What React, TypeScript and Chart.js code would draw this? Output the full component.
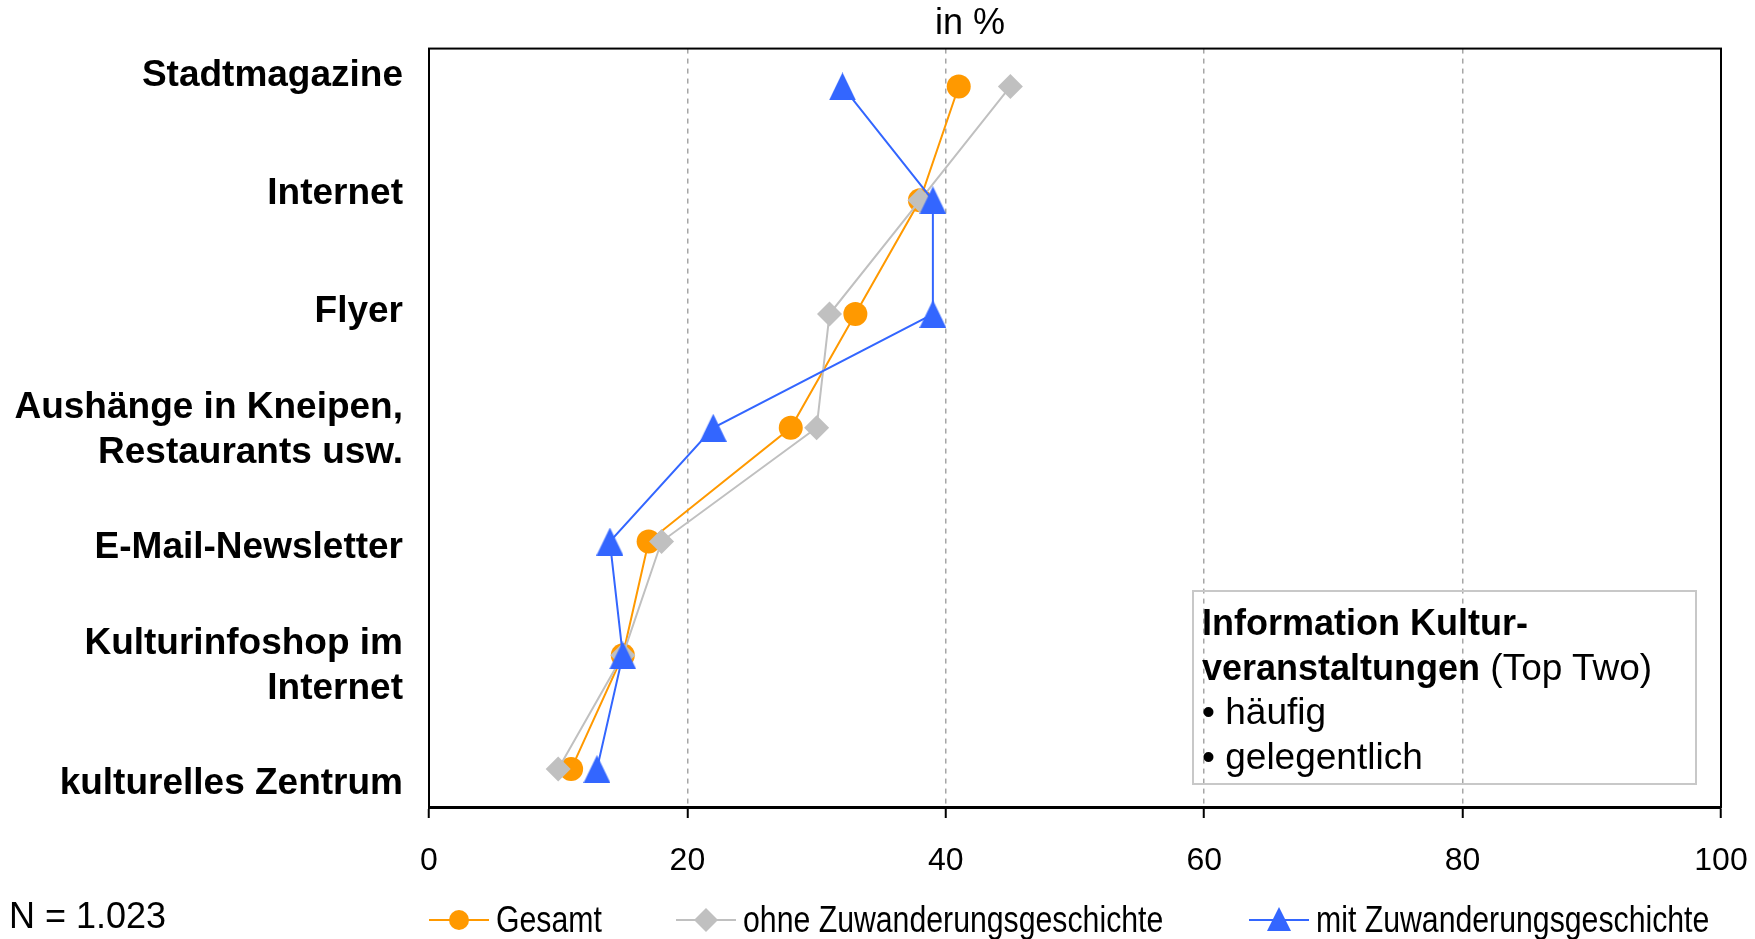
import React, { useEffect, useRef } from "react";
import { Chart, registerables } from "chart.js";

Chart.register(...registerables);

const categories: (string | string[])[] = [
  "Stadtmagazine",
  "Internet",
  "Flyer",
  ["Aushänge in Kneipen,", "Restaurants usw."],
  "E-Mail-Newsletter",
  ["Kulturinfoshop im", "Internet"],
  "kulturelles Zentrum",
];
const gesamt = [41, 38, 33, 28, 17, 15, 11];
const ohneZuwanderung = [45, 38, 31, 30, 18, 15, 10];
const mitZuwanderung = [32, 39, 39, 22, 14, 15, 13];
const seriesNames = ["Gesamt", "ohne Zuwanderungsgeschichte", "mit Zuwanderungsgeschichte"];
const xTicks = [0, 20, 40, 60, 80, 100];

const ORANGE = "#FF9900";
const GREY = "#C0C0C0";
const BLUE = "#3366FF";
const FONT = "'Liberation Sans', Arial, sans-serif";

const framePlugin = {
  id: "frame",
  afterDraw(chart: any) {
    const { ctx, chartArea } = chart;
    ctx.save();
    ctx.strokeStyle = "#000";
    ctx.lineWidth = 2;
    ctx.strokeRect(chartArea.left, chartArea.top, chartArea.right - chartArea.left, chartArea.bottom - chartArea.top);
    ctx.restore();
  },
};

function makeTriangle(color: string, w: number, h: number) {
  const c = document.createElement("canvas");
  c.width = w;
  c.height = h;
  const g = c.getContext("2d");
  if (g) {
    g.fillStyle = color;
    g.beginPath();
    g.moveTo(w / 2, 0);
    g.lineTo(w, h);
    g.lineTo(0, h);
    g.closePath();
    g.fill();
  }
  return c;
}

function LegendIcon({ kind, color }: { kind: string; color: string }) {
  return (
    <svg width={60} height={30} style={{ display: "block" }}>
      <line x1={0} y1={15} x2={60} y2={15} stroke={color} strokeWidth={2} />
      {kind === "circle" && <circle cx={30} cy={15} r={10} fill={color} />}
      {kind === "diamond" && <polygon points="30,3 42,15 30,27 18,15" fill={color} />}
      {kind === "triangle" && <polygon points="30,2 42,26 18,26" fill={color} />}
    </svg>
  );
}

export default function App() {
  const canvasRef = useRef<HTMLCanvasElement | null>(null);

  useEffect(() => {
    if (!canvasRef.current) return;
    const mk = (vals: number[]) => vals.map((v, i) => ({ x: v, y: i }));
    const tri = makeTriangle(BLUE, 27, 28);
    const chart = new Chart(canvasRef.current, {
      type: "line",
      data: {
        datasets: [
          {
            label: seriesNames[0],
            data: mk(gesamt),
            borderColor: ORANGE,
            backgroundColor: ORANGE,
            borderWidth: 2,
            pointStyle: "circle",
            pointRadius: 12,
            pointBorderWidth: 0,
            order: 2,
          },
          {
            label: seriesNames[1],
            data: mk(ohneZuwanderung),
            borderColor: GREY,
            backgroundColor: GREY,
            borderWidth: 2,
            pointStyle: "rectRot",
            pointRadius: 12.5,
            pointBorderWidth: 0,
            order: 1,
          },
          {
            label: seriesNames[2],
            data: mk(mitZuwanderung),
            borderColor: BLUE,
            backgroundColor: BLUE,
            borderWidth: 2,
            pointStyle: tri,
            pointRadius: 13,
            pointBorderWidth: 0,
            order: 0,
          },
        ],
      },
      options: {
        animation: false,
        responsive: false,
        maintainAspectRatio: false,
        layout: { padding: { left: 0, right: 34, top: 47, bottom: 62 } },
        plugins: { legend: { display: false }, tooltip: { enabled: false }, title: { display: false } },
        scales: {
          x: {
            type: "linear",
            min: 0,
            max: 100,
            afterBuildTicks: (s: any) => {
              s.ticks = xTicks.map((v) => ({ value: v }));
            },
            ticks: {
              color: "#000",
              font: { family: FONT, size: 32 },
              padding: 24,
            },
            grid: {
              color: (c: any) => (c.tick && (c.tick.value === 0 || c.tick.value === 100) ? "rgba(0,0,0,0)" : "#A6A6A6"),
              lineWidth: 1.5,
              tickColor: "#000",
              tickBorderDash: [],
              tickLength: 11,
              tickWidth: 2,
            },
            border: { display: true, color: "#000", width: 3, dash: [5, 5] },
            afterFit: (s: any) => {
              s.height = 70;
              s.paddingLeft = 0;
              s.paddingRight = 0;
            },
          },
          y: {
            type: "linear",
            display: false,
            reverse: true,
            min: -1 / 3,
            max: 6 + 1 / 3,
          },
          yLabels: {
            type: "linear",
            position: "left",
            reverse: true,
            min: -0.2335,
            max: 6.196,
            afterBuildTicks: (s: any) => {
              s.ticks = categories.map((_, i) => ({ value: i }));
            },
            ticks: {
              callback: (v: any) => categories[v as number],
              color: "#000",
              font: { family: FONT, size: 37, weight: "bold", lineHeight: 1.22 },
              padding: 26,
              autoSkip: false,
            },
            grid: { display: false, drawTicks: false },
            border: { display: false },
            afterFit: (s: any) => {
              s.width = 429;
            },
          },
        },
      },
      plugins: [framePlugin],
    } as any);
    return () => chart.destroy();
  }, []);

  const textBase: React.CSSProperties = { position: "absolute", fontFamily: FONT, color: "#000", whiteSpace: "nowrap" };
  const boldPart: React.CSSProperties = { fontWeight: "bold", fontSize: 36 };

  return (
    <div style={{ position: "absolute", left: 0, top: 0, width: 1755, height: 939, background: "#fff", overflow: "hidden" }}>
      <canvas ref={canvasRef} width={1755} height={939} style={{ position: "absolute", left: 0, top: 0, width: 1755, height: 939 }} />
      <div style={{ ...textBase, left: 970, top: 2, transform: "translateX(-50%)", fontSize: 36, lineHeight: "40px" }}>in %</div>
      <div style={{ ...textBase, left: 9, top: 896, fontSize: 36, lineHeight: "40px" }}>N = 1.023</div>

      <div
        style={{
          position: "absolute",
          left: 1192,
          top: 590,
          width: 505,
          height: 195,
          border: "2px solid #C8C8C8",
          padding: "9px 0 0 8px",
          boxSizing: "border-box",
          fontFamily: FONT,
          fontSize: 37,
          lineHeight: "44.5px",
          color: "#000",
          whiteSpace: "nowrap",
        }}
      >
        <div style={{ height: 44.5 }}><span style={boldPart}>Information Kultur-</span></div>
        <div style={{ height: 44.5 }}><span style={boldPart}>veranstaltungen</span> (Top Two)</div>
        <div style={{ height: 44.5 }}>• häufig</div>
        <div style={{ height: 44.5 }}>• gelegentlich</div>
      </div>

      {[
        { left: 429, kind: "circle", color: ORANGE, name: seriesNames[0] },
        { left: 676, kind: "diamond", color: GREY, name: seriesNames[1] },
        { left: 1249, kind: "triangle", color: BLUE, name: seriesNames[2] },
      ].map((it) => (
        <div key={it.name} style={{ position: "absolute", left: it.left, top: 905, height: 30, display: "flex", alignItems: "center" }}>
          <LegendIcon kind={it.kind} color={it.color} />
          <span
            style={{
              fontFamily: FONT,
              fontSize: 36,
              lineHeight: "30px",
              marginLeft: 7,
              display: "inline-block",
              transform: "scaleX(0.84)",
              transformOrigin: "left center",
              whiteSpace: "nowrap",
            }}
          >
            {it.name}
          </span>
        </div>
      ))}
    </div>
  );
}
